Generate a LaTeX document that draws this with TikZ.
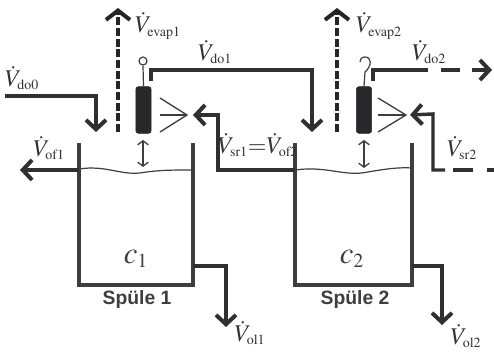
\documentclass[tikz,border=0pt]{standalone}
\usepackage{mathptmx}
\usepackage[no-math]{fontspec}
\setsansfont{Liberation Sans}
\usepackage{amsmath}
\usetikzlibrary{arrows.meta, positioning, calc}
\DeclareMathSizes{18}{18}{10.5}{8}
\DeclareMathSizes{23}{23}{15}{10}
\definecolor{WallGray}{RGB}{62, 62, 62}
\definecolor{PipeDark}{RGB}{48, 48, 48}
\definecolor{HeaterDark}{RGB}{40, 40, 44}
\tikzset{
    pipe/.style={color=PipeDark, line width=2.6pt, line join=miter},
    flow/.style={pipe, -{Straight Barb[length=7pt, width=15pt, line width=3pt]}},
    evapflow/.style={color=black!85, line width=3pt, dash pattern=on 6pt off 2pt, -{Straight Barb[length=7pt, width=18pt, line width=3pt]}},
    wall/.style={color=WallGray, line width=3pt},
    thinline/.style={color=WallGray, line width=0.9pt},
    heatbar/.style={fill=HeaterDark, draw=HeaterDark, rounded corners=2pt, minimum width=11.5pt, minimum height=35pt, inner sep=0pt},
    lbl/.style={font=\fontsize{18}{20}\selectfont, color=black!80, inner sep=0pt},
    conc/.style={font=\fontsize{23}{25}\selectfont, color=WallGray, inner sep=0pt},
}
\begin{document}
\begin{tikzpicture}[x=0.75pt, y=-0.75pt]
    \useasboundingbox (0,0) rectangle (494,352);

    % Spuele 1
    \coordinate (T1a) at (79,143);
    \coordinate (T1b) at (79,285);
    \coordinate (T1c) at (193,285);
    \coordinate (T1d) at (193,143);
    \draw[wall] (T1a) -- (T1b) -- (T1c) -- (T1d);
    \draw[thinline] (79,169) .. controls (105,165) and (120,175) .. (140,173) .. controls (158,170) and (172,170) .. (193,170);
    \node[font=\sffamily\bfseries\fontsize{14.5}{16}\selectfont, color=WallGray, inner sep=0pt] (S1) at (137,300) {Spüle 1};
    \node[conc] (C1) at (136,259) {$c_1$};

    % Spuele 2
    \coordinate (T2a) at (295,143);
    \coordinate (T2b) at (295,285);
    \coordinate (T2c) at (412,285);
    \coordinate (T2d) at (412,143);
    \draw[wall] (T2a) -- (T2b) -- (T2c) -- (T2d);
    \draw[thinline] (295,170) .. controls (325,166) and (340,175) .. (362,173) .. controls (380,170) and (395,167) .. (412,168);
    \node[font=\sffamily\bfseries\fontsize{14.5}{16}\selectfont, color=WallGray, inner sep=0pt] (S2) at (355,300) {Spüle 2};
    \node[conc] (C2) at (352,259) {$c_2$};

    % Heizer
    \node[heatbar] (H1) at (143.5,110) {};
    \node[heatbar] (H2) at (364,110) {};
    \draw[thinline] (H1.north) -- (143,66);
    \draw[thinline] (143,61) circle (4);
    \draw[thinline] (H2.north) -- (365,72) .. controls (372,66) and (372,57) .. (365,57) .. controls (361,57) and (360,60) .. (360,62);
    \coordinate (H1low) at (143,140);
    \coordinate (H1wat) at (143,167);
    \coordinate (H2low) at (364,140);
    \coordinate (H2wat) at (364,168);
    \draw[thinline, line width=1pt, {Straight Barb[length=3pt, width=8pt]}-{Straight Barb[length=3pt, width=8pt]}] (H1low) -- (H1wat);
    \draw[thinline, line width=1pt, {Straight Barb[length=3pt, width=8pt]}-{Straight Barb[length=3pt, width=8pt]}] (H2low) -- (H2wat);

    % Membran
    \coordinate (M1) at (187,115);
    \coordinate (M2) at (406,115);
    \draw[thinline, line width=1pt] (160,98) -- (M1) -- (160,132);
    \draw[thinline, line width=1pt] (160,115) -- (M1);
    \draw[thinline, line width=1pt] (378,98) -- (M2) -- (378,132);
    \draw[thinline, line width=1pt] (378,115) -- (M2);

    % Stroeme
    \coordinate (E1a) at (118,132);
    \coordinate (E1b) at (118,8);
    \coordinate (E2a) at (337,132);
    \coordinate (E2b) at (337,8);
    \draw[evapflow] (E1a) -- (E1b);
    \draw[evapflow] (E2a) -- (E2b);

    \coordinate (D0a) at (5,96);
    \coordinate (D0b) at (96,96);
    \coordinate (D0c) at (96,132);
    \draw[flow] (D0a) -- (D0b) -- (D0c);

    \coordinate (D1a) at (151,81);
    \coordinate (D1b) at (151,70);
    \coordinate (D1c) at (312,70);
    \coordinate (D1d) at (312,132);
    \draw[flow] (D1a) -- (D1b) -- (D1c) -- (D1d);

    \coordinate (D2a) at (373,81);
    \coordinate (D2b) at (373,70);
    \coordinate (D2c) at (428,70);
    \coordinate (D2d) at (441,70);
    \coordinate (D2e) at (460,70);
    \coordinate (D2f) at (472,70);
    \coordinate (D2g) at (492,70);
    \draw[pipe] (D2a) -- (D2b) -- (D2c);
    \draw[pipe] (D2d) -- (D2e);
    \draw[flow] (D2f) -- (D2g);

    \coordinate (O1a) at (79,170);
    \coordinate (O1b) at (20,170);
    \draw[flow] (O1a) -- (O1b);

    \coordinate (R1a) at (295,170);
    \coordinate (R1b) at (218,170);
    \coordinate (R1c) at (218,115);
    \coordinate (R1d) at (193,115);
    \draw[flow] (R1a) -- (R1b) -- (R1c) -- (R1d);

    \coordinate (R2a) at (445,170);
    \coordinate (R2b) at (433,170);
    \coordinate (R2c) at (433,114);
    \coordinate (R2d) at (410,115);
    \draw[flow] (R2a) -- (R2b) -- (R2c) -- (R2d);
    \draw[pipe] (453,170) -- (473,170);
    \draw[pipe] (487,170) -- (494,170);

    \coordinate (L1a) at (193,266);
    \coordinate (L1b) at (226,266);
    \coordinate (L1c) at (226,327);
    \coordinate (L2a) at (412,266);
    \coordinate (L2b) at (442,266);
    \coordinate (L2c) at (442,325);
    \draw[flow] (L1a) -- (L1b) -- (L1c);
    \draw[flow] (L2a) -- (L2b) -- (L2c);

    % Beschriftung
    \node[lbl] (Vdo0) at (22,78) {$\dot{V}_{\mathrm{do0}}$};
    \node[lbl] (Vof1) at (49,148) {$\dot{V}_{\mathrm{of1}}$};
    \node[lbl] (Vevap1) at (158,26) {$\dot{V}_{\mathrm{evap1}}$};
    \node[lbl] (Vdo1) at (215,52) {$\dot{V}_{\mathrm{do1}}$};
    \node[lbl] (Vsr1) at (258,145) {$\dot{V}_{\mathrm{sr1}}{=}\dot{V}_{\mathrm{of2}}$};
    \node[lbl] (Vevap2) at (379,26) {$\dot{V}_{\mathrm{evap2}}$};
    \node[lbl] (Vdo2) at (429,52) {$\dot{V}_{\mathrm{do2}}$};
    \node[lbl] (Vsr2) at (462,148) {$\dot{V}_{\mathrm{sr2}}$};
    \node[lbl] (Vol1) at (250,333) {$\dot{V}_{\mathrm{ol1}}$};
    \node[lbl] (Vol2) at (466,336) {$\dot{V}_{\mathrm{ol2}}$};
\end{tikzpicture}
\end{document}
